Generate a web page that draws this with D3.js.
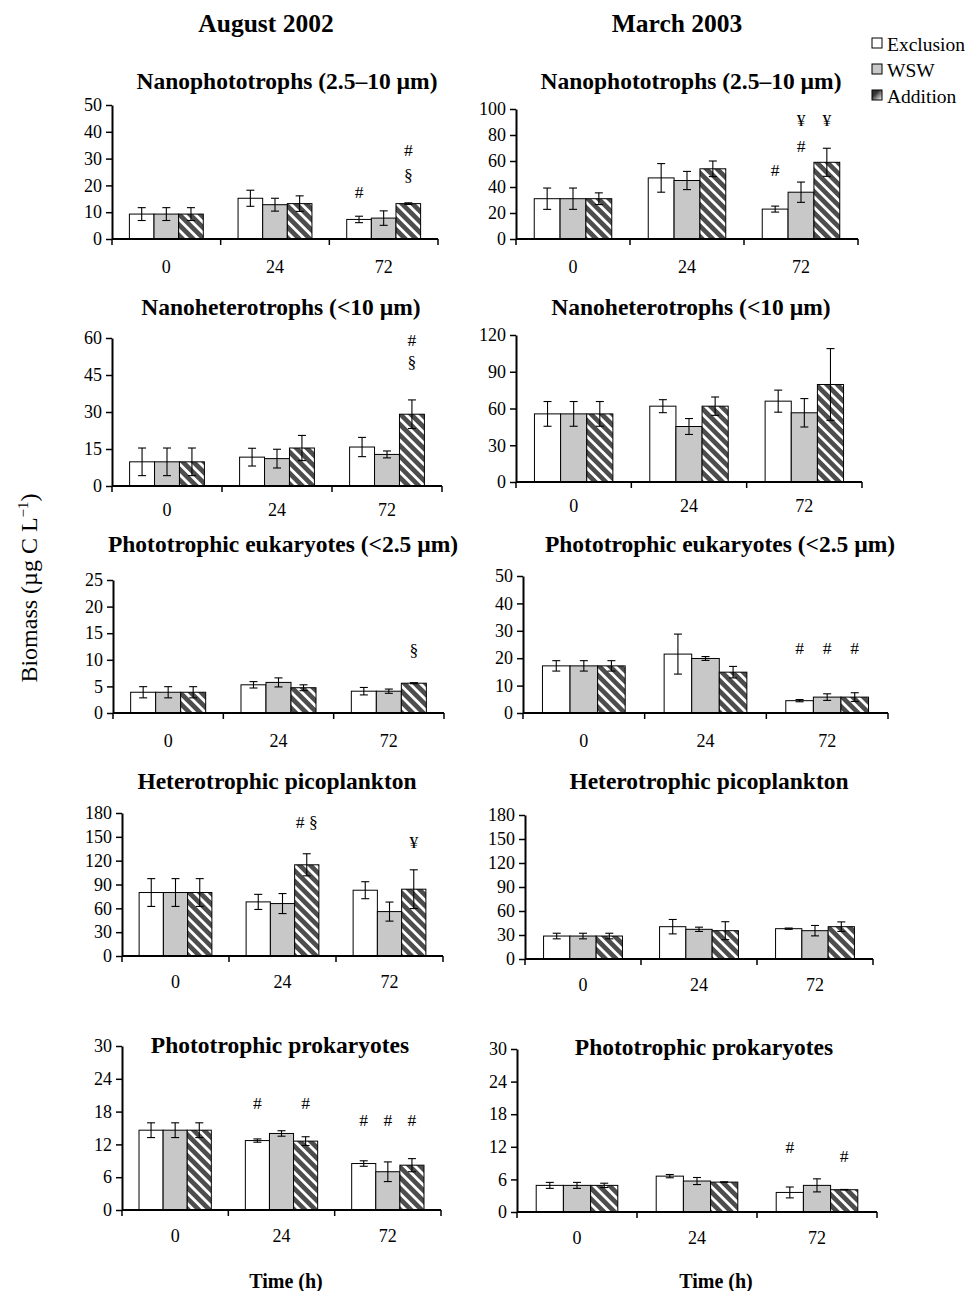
<!DOCTYPE html>
<html><head><meta charset="utf-8">
<script src="https://cdn.jsdelivr.net/npm/d3@7"></script>
<style>body{margin:0;background:#fff}svg{display:block}</style>
</head><body>
<svg id="chart" width="968" height="1291"></svg>
<script>
// ---------------- DATA ----------------
const categories = ["0", "24", "72"];
const seriesNames = ["Exclusion", "WSW", "Addition"];
const columnTitles = ["August 2002", "March 2003"];
const panelTitles = [
  "Nanophototrophs (2.5\u201310 \u00b5m)", "Nanophototrophs (2.5\u201310 \u00b5m)",
  "Nanoheterotrophs (<10 \u00b5m)", "Nanoheterotrophs (<10 \u00b5m)",
  "Phototrophic eukaryotes (<2.5 \u00b5m)", "Phototrophic eukaryotes (<2.5 \u00b5m)",
  "Heterotrophic picoplankton", "Heterotrophic picoplankton",
  "Phototrophic prokaryotes", "Phototrophic prokaryotes"
];
const yMax  = [50, 100, 60, 120, 25, 50, 180, 180, 30, 30];
const yStep = [10, 20, 15, 30, 5, 10, 30, 30, 6, 6];

// values indexed [time][treatment]
const augNanoPhotoMean = [[9.3, 9.3, 9.3], [15.2, 12.8, 13.2], [7.3, 7.8, 13.2]];
const augNanoPhotoErr  = [[2.4, 2.4, 2.4], [3.0, 2.4, 2.9], [1.2, 2.7, 0.3]];
const marNanoPhotoMean = [[31, 31, 31], [47, 45, 54], [23, 36, 59]];
const marNanoPhotoErr  = [[8.2, 8.2, 4.5], [11, 7, 6], [2.3, 7.8, 10.8]];
const augNanoHetMean   = [[9.8, 9.8, 9.8], [11.7, 11.1, 15.4], [15.8, 12.8, 29.1]];
const augNanoHetErr    = [[5.6, 5.6, 5.6], [3.6, 3.8, 5.1], [3.9, 1.4, 5.8]];
const marNanoHetMean   = [[55.6, 55.6, 55.6], [61.9, 45.3, 61.9], [66, 56.5, 79.6]];
const marNanoHetErr    = [[10.1, 10.1, 10.1], [5.3, 6.5, 7.5], [9, 11.6, 29.3]];
const augPhotoEukMean  = [[3.9, 3.9, 3.9], [5.3, 5.75, 4.75], [4.1, 4.1, 5.6]];
const augPhotoEukErr   = [[1.05, 1.05, 1.05], [0.6, 0.85, 0.55], [0.7, 0.4, 0.1]];
const marPhotoEukMean  = [[17.2, 17.2, 17.2], [21.5, 19.9, 14.9], [4.5, 5.8, 5.8]];
const marPhotoEukErr   = [[1.9, 1.9, 1.9], [7.3, 0.7, 2.1], [0.4, 1.2, 1.6]];
const augHetPicoMean   = [[79.9, 79.9, 79.9], [68.1, 66, 114.8], [82.8, 55.9, 84.1]];
const augHetPicoErr    = [[17.5, 17.5, 17.5], [9.5, 12.6, 13.9], [10.7, 12, 24.4]];
const marHetPicoMean   = [[28.7, 28.7, 28.7], [40.4, 37.1, 35.4], [37.9, 35.4, 40.4]];
const marHetPicoErr    = [[3.5, 3.5, 3.5], [9, 2.7, 11.2], [0.8, 6.5, 6]];
const augPhotoProkMean = [[14.6, 14.6, 14.6], [12.7, 14, 12.6], [8.5, 7, 8.2]];
const augPhotoProkErr  = [[1.35, 1.35, 1.35], [0.3, 0.5, 0.8], [0.5, 1.8, 1.2]];
const marPhotoProkMean = [[4.9, 4.9, 4.9], [6.6, 5.7, 5.5], [3.6, 4.9, 4.1]];
const marPhotoProkErr  = [[0.55, 0.55, 0.4], [0.3, 0.65, 0.05], [1.0, 1.2, 0.05]];

const panelMeans = [augNanoPhotoMean, marNanoPhotoMean, augNanoHetMean, marNanoHetMean,
  augPhotoEukMean, marPhotoEukMean, augHetPicoMean, marHetPicoMean, augPhotoProkMean, marPhotoProkMean];
const panelErrs = [augNanoPhotoErr, marNanoPhotoErr, augNanoHetErr, marNanoHetErr,
  augPhotoEukErr, marPhotoEukErr, augHetPicoErr, marHetPicoErr, augPhotoProkErr, marPhotoProkErr];

// significance marks: panel, time index, treatment index, text, level (data units)
const annotations = [
  {p: 0, c: 2, s: 0, t: "#", v: 17.5},
  {p: 0, c: 2, s: 2, t: "#", v: 33.2},
  {p: 0, c: 2, s: 2, t: "\u00a7", v: 23.9},
  {p: 1, c: 2, s: 0, t: "#", v: 53},
  {p: 1, c: 2, s: 1, t: "#", v: 71.5},
  {p: 1, c: 2, s: 1, t: "\u00a5", v: 91.5},
  {p: 1, c: 2, s: 2, t: "\u00a5", v: 91.5},
  {p: 2, c: 2, s: 2, t: "#", v: 59.2},
  {p: 2, c: 2, s: 2, t: "\u00a7", v: 50.3},
  {p: 4, c: 2, s: 2, t: "\u00a7", v: 11.8},
  {p: 5, c: 2, s: 0, t: "#", v: 23.7},
  {p: 5, c: 2, s: 1, t: "#", v: 23.7},
  {p: 5, c: 2, s: 2, t: "#", v: 23.7},
  {p: 6, c: 1, s: 2, t: "# \u00a7", v: 168.7},
  {p: 6, c: 2, s: 2, t: "\u00a5", v: 143.6},
  {p: 8, c: 1, s: 0, t: "#", v: 19.6},
  {p: 8, c: 1, s: 2, t: "#", v: 19.6},
  {p: 8, c: 2, s: 0, t: "#", v: 16.5},
  {p: 8, c: 2, s: 1, t: "#", v: 16.5},
  {p: 8, c: 2, s: 2, t: "#", v: 16.5},
  {p: 9, c: 2, s: 0, t: "#", v: 12},
  {p: 9, c: 2, s: 2, t: "#", v: 10.3}
];

// ---------------- LAYOUT ----------------
const layout = [
  {x0: 112, x1: 438, top: 105, bot: 239, tx: 287, ty: 89, lab: 34},
  {x0: 516, x1: 858, top: 109, bot: 239, tx: 691, ty: 89, lab: 34},
  {x0: 112, x1: 442, top: 338, bot: 486, tx: 281, ty: 315, lab: 30},
  {x0: 516, x1: 862, top: 335, bot: 482, tx: 691, ty: 315, lab: 30},
  {x0: 113, x1: 444, top: 580, bot: 713, tx: 283, ty: 552, lab: 34},
  {x0: 523, x1: 888, top: 576, bot: 713, tx: 720, ty: 552, lab: 34},
  {x0: 122, x1: 443, top: 813, bot: 956, tx: 277, ty: 789, lab: 32},
  {x0: 525, x1: 873, top: 815, bot: 959, tx: 709, ty: 789, lab: 32},
  {x0: 122, x1: 441, top: 1046, bot: 1210, tx: 280, ty: 1053, lab: 32},
  {x0: 517, x1: 877, top: 1049, bot: 1212, tx: 704, ty: 1055, lab: 32}
];
const FONT = "'Liberation Serif','Times New Roman',serif";
const fills = ["#ffffff", "#c8c8c8", "url(#hatch)"];

const svg = d3.select("#chart");
svg.append("rect").attr("width", 968).attr("height", 1291).attr("fill", "#fff");

const defs = svg.append("defs");
const pat = defs.append("pattern").attr("id", "hatch").attr("patternUnits", "userSpaceOnUse")
  .attr("width", 7.5).attr("height", 7.5).attr("patternTransform", "rotate(-45)");
pat.append("rect").attr("width", 7.5).attr("height", 7.5).attr("fill", "#4d4d4d");
pat.append("rect").attr("width", 2.8).attr("height", 7.5).attr("fill", "#ffffff");
const grad = defs.append("linearGradient").attr("id", "legGrad")
  .attr("x1", "0").attr("y1", "0").attr("x2", "1").attr("y2", "1");
grad.append("stop").attr("offset", "0.35").attr("stop-color", "#333");
grad.append("stop").attr("offset", "1").attr("stop-color", "#fff");

function txt(g, x, y, s, size, weight, anchor) {
  return g.append("text")
    .attr("x", x).attr("y", y)
    .attr("text-anchor", anchor || "middle")
    .style("font-family", FONT).style("font-size", size + "px")
    .style("font-weight", weight || "normal").attr("fill", "#000").text(s);
}

// column headers
txt(svg, 266, 32, columnTitles[0], 25.5, "bold");
txt(svg, 677, 32, columnTitles[1], 25.5, "bold");

// panels
layout.forEach((L, p) => {
  const g = svg.append("g");
  const x = d3.scaleBand().domain(categories).range([L.x0, L.x1]).paddingInner(0.32).paddingOuter(0.16);
  const xs = d3.scaleBand().domain(seriesNames).range([0, x.bandwidth()]);
  const y = d3.scaleLinear().domain([0, yMax[p]]).range([L.bot, L.top]);
  const means = panelMeans[p], errs = panelErrs[p];

  const rows = [];
  categories.forEach((c, ci) => seriesNames.forEach((s, si) => rows.push({c, s, ci, si, v: means[ci][si], e: errs[ci][si]})));

  g.selectAll("rect.bar").data(rows).enter().append("rect")
    .attr("x", d => x(d.c) + xs(d.s)).attr("width", xs.bandwidth())
    .attr("y", d => y(d.v)).attr("height", d => y(0) - y(d.v))
    .attr("fill", d => fills[d.si]).attr("stroke", "#000").attr("stroke-width", 1);

  const eb = g.selectAll("g.err").data(rows).enter().append("g")
    .attr("stroke", "#000").attr("stroke-width", 1.1);
  eb.append("line").attr("x1", d => x(d.c) + xs(d.s) + xs.bandwidth() / 2)
    .attr("x2", d => x(d.c) + xs(d.s) + xs.bandwidth() / 2)
    .attr("y1", d => y(d.v + d.e)).attr("y2", d => y(d.v - d.e));
  [1, -1].forEach(sg => {
    eb.append("line").attr("x1", d => x(d.c) + xs(d.s) + xs.bandwidth() / 2 - 4)
      .attr("x2", d => x(d.c) + xs(d.s) + xs.bandwidth() / 2 + 4)
      .attr("y1", d => y(d.v + sg * d.e)).attr("y2", d => y(d.v + sg * d.e));
  });

  // y axis
  const ya = g.append("g").attr("transform", `translate(${L.x0},0)`)
    .call(d3.axisLeft(y).tickValues(d3.range(0, yMax[p] + yStep[p] / 2, yStep[p])).tickSize(6).tickSizeOuter(0).tickPadding(4));
  ya.select(".domain").attr("stroke-width", 2);
  ya.selectAll(".tick line").attr("stroke-width", 1.5);
  ya.selectAll("text").style("font-family", FONT).style("font-size", "18px").attr("fill", "#000");

  // x axis with labels at band centers, ticks at band boundaries
  const xa = g.append("g").attr("transform", `translate(0,${L.bot})`)
    .call(d3.axisBottom(x).tickSize(0).tickPadding(L.lab - 12.8));
  xa.select(".domain").attr("stroke-width", 2).attr("d", `M${L.x0},0H${L.x1}`);
  xa.selectAll("text").style("font-family", FONT).style("font-size", "18px").attr("fill", "#000");
  const bounds = d3.range(0, categories.length + 1).map(i => L.x0 + i * x.step());
  xa.selectAll("line.bt").data(bounds).enter().append("line").attr("class", "bt")
    .attr("x1", d => d).attr("x2", d => d).attr("y1", 0).attr("y2", 6)
    .attr("stroke", "#000").attr("stroke-width", 1.5);

  // annotations
  annotations.filter(a => a.p === p).forEach(a => {
    txt(g, x(categories[a.c]) + xs(seriesNames[a.s]) + xs.bandwidth() / 2, y(a.v) + 6, a.t, 17.5);
  });

  // title
  txt(svg, L.tx, L.ty, panelTitles[p], 23.5, "bold");
});

// x-axis titles
txt(svg, 286, 1288, "Time (h)", 20, "bold");
txt(svg, 716, 1288, "Time (h)", 20, "bold");

// y-axis title
const yl = svg.append("text").attr("transform", "translate(37,588) rotate(-90)")
  .attr("text-anchor", "middle").style("font-family", FONT).style("font-size", "24px");
yl.append("tspan").text("Biomass (\u00b5g C L");
yl.append("tspan").attr("dy", -9).style("font-size", "15px").text("\u22121");
yl.append("tspan").attr("dy", 9).text(")");

// legend
const leg = svg.append("g");
seriesNames.forEach((s, i) => {
  leg.append("rect").attr("x", 872).attr("y", 38 + i * 26).attr("width", 10).attr("height", 10)
    .attr("fill", i === 2 ? "url(#legGrad)" : fills[i]).attr("stroke", "#000").attr("stroke-width", 1);
  txt(leg, 887, 51 + i * 26, s, 19.5, "normal", "start");
});
</script>
</body></html>
